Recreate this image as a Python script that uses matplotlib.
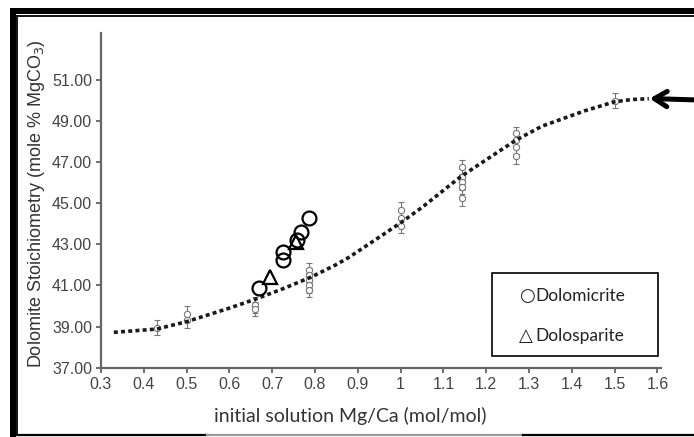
import matplotlib
matplotlib.use("Agg")
import matplotlib.pyplot as plt
from matplotlib.patches import Rectangle

# ---- data ----
# small reference markers with error bars (experimental clusters)
exp_x = [0.43, 0.5, 0.5, 0.66, 0.66,
         0.785, 0.785, 0.785, 0.785, 0.785,
         1.0, 1.0, 1.0,
         1.143, 1.143, 1.143, 1.143, 1.143,
         1.27, 1.27, 1.27, 1.27,
         1.5]
exp_y = [38.95, 39.62, 39.3, 40.05, 39.85,
         41.75, 41.5, 41.25, 41.0, 40.8,
         44.65, 44.3, 43.9,
         46.78, 46.3, 46.05, 45.8, 45.25,
         48.4, 48.1, 47.75, 47.3,
         50.0]
exp_err = [0.38, 0.38, 0.38, 0.38, 0.35,
           0.35, 0.35, 0.35, 0.35, 0.35,
           0.4, 0.35, 0.35,
           0.35, 0.35, 0.35, 0.35, 0.4,
           0.3, 0.3, 0.35, 0.4,
           0.35]

# Dolomicrite (large circles)
dmc_x = [0.668, 0.726, 0.726, 0.757, 0.767, 0.786]
dmc_y = [40.86, 42.65, 42.24, 43.21, 43.62, 44.27]

# Dolosparite (triangles)
dsp_x = [0.695, 0.755]
dsp_y = [41.43, 43.13]

# fitted trend curve
fit_x = [0.33, 0.43, 0.5, 0.6, 0.66, 0.72, 0.79, 0.85, 0.88, 0.95, 1.0, 1.05,
         1.14, 1.2, 1.27, 1.33, 1.37, 1.43, 1.5, 1.54, 1.58]
fit_y = [38.72, 38.88, 39.24, 39.9, 40.33, 40.8, 41.4, 42.02, 42.38, 43.35, 44.05,
         44.8, 46.29, 47.12, 48.08, 48.75, 49.05, 49.5, 49.94, 50.05, 50.09]

xticks = [0.3, 0.4, 0.5, 0.6, 0.7, 0.8, 0.9, 1.0, 1.1, 1.2, 1.3, 1.4, 1.5, 1.6]
xticklabels = ["0.3", "0.4", "0.5", "0.6", "0.7", "0.8", "0.9", "1", "1.1",
               "1.2", "1.3", "1.4", "1.5", "1.6"]
yticks = [37, 39, 41, 43, 45, 47, 49, 51]
legend_symbols = ["\u25CB", "\u25B3"]
legend_labels = ["Dolomicrite", "Dolosparite"]

# ---- figure ----
W, H = 694, 437
fig = plt.figure(figsize=(W / 100, H / 100), dpi=100)
fig.patch.set_facecolor("white")


def fx(px):
    return px / W


def fy(py):
    return 1 - py / H


# outer frame (thick top/left bands, thin inner lines)
fig.add_artist(Rectangle((fx(10), fy(13.5)), 1 - fx(10), 5.5 / H,
                         transform=fig.transFigure, color="black", lw=0))
fig.add_artist(Rectangle((fx(10), fy(437)), 5.5 / W, (437 - 8) / H,
                         transform=fig.transFigure, color="black", lw=0))
fig.add_artist(plt.Line2D([fx(16.5), 1], [fy(16), fy(16)], transform=fig.transFigure,
                          color="black", lw=1.3))
fig.add_artist(plt.Line2D([fx(17), fx(17)], [fy(16), fy(435)], transform=fig.transFigure,
                          color="black", lw=1.3))
fig.add_artist(plt.Line2D([fx(16.5), fx(207)], [fy(434.5), fy(434.5)], transform=fig.transFigure,
                          color="black", lw=1.6))
fig.add_artist(plt.Line2D([fx(207), fx(523)], [fy(434.5), fy(434.5)], transform=fig.transFigure,
                          color="#999999", lw=1.6))
fig.add_artist(plt.Line2D([fx(523), 1], [fy(434.5), fy(434.5)], transform=fig.transFigure,
                          color="black", lw=1.6))

ax_left, ax_right, ax_top, ax_bot = 101, 661, 33, 367.7
ax = fig.add_axes([ax_left / W, 1 - ax_bot / H, (ax_right - ax_left) / W,
                   (ax_bot - ax_top) / H])
ax.set_xlim(0.3, 0.3 + (ax_right - ax_left) / 428.0)
ax.set_ylim(37, 37 + (ax_bot - ax_top) / 20.55)

for s in ["top", "right"]:
    ax.spines[s].set_visible(False)
for s in ["left", "bottom"]:
    ax.spines[s].set_color("#666666")
    ax.spines[s].set_linewidth(1.6)

tick_font = dict(family=["Liberation Sans", "DejaVu Sans"], size=11.5, color="#444444")
ax.set_xticks(xticks)
ax.set_xticklabels(xticklabels, **tick_font)
ax.set_yticks(yticks)
ax.set_yticklabels(["%.2f" % v for v in yticks], **tick_font)
ax.tick_params(axis="both", direction="out", length=3.5, width=1.2, color="#555555",
               pad=3)

# trend curve
ax.plot(fit_x, fit_y, color="#1a1a1a", lw=2.6, linestyle=(0, (1.1, 0.9)),
        solid_capstyle="butt", dash_capstyle="butt", zorder=3)

# experimental points
ax.errorbar(exp_x, exp_y, yerr=exp_err, fmt="o", ms=4.5, mfc="white",
            mec="#777777", mew=0.8, ecolor="#777777", elinewidth=0.8,
            capsize=2, capthick=0.8, zorder=2)

# Dolomicrite / Dolosparite
ax.plot(dmc_x, dmc_y, "o", ms=10, mfc="none", mec="black", mew=1.6, zorder=4)
ax.plot(dsp_x, dsp_y, "^", ms=10, mfc="none", mec="black", mew=1.6, zorder=4)

# arrow at right
ax.annotate("", xy=(1.582, 50.1), xytext=(1.69, 50.03), xycoords="data",
            textcoords="data", annotation_clip=False,
            arrowprops=dict(arrowstyle="->,head_length=0.9,head_width=0.55",
                            color="black", lw=3.6, shrinkA=0, shrinkB=0,
                            capstyle="round", joinstyle="round"))

# axis labels
fig.text(fx(37), fy(204), "Dolomite Stoichiometry (mole % MgCO$_3$)", rotation=90,
         ha="center", va="center", family=["Liberation Sans", "DejaVu Sans"],
         size=13, color="#333333")
fig.text(fx(350), fy(416), "initial solution Mg/Ca (mol/mol)", ha="center", va="center",
         family=["Lato", "DejaVu Sans"], size=14, color="#333333")

# legend box
fig.add_artist(Rectangle((fx(491.7), fy(355.7)), (658.3 - 491.7) / W, (355.7 - 273.3) / H,
                         transform=fig.transFigure, fill=False, ec="black", lw=1.2))
for sym, lab, py in zip(legend_symbols, legend_labels, [295.7, 335.7]):
    fig.text(fx(519), fy(py), sym, ha="left", va="center",
             family=["DejaVu Sans"], size=13, color="#222222")
    fig.text(fx(535), fy(py), lab, ha="left", va="center",
             family=["Lato", "DejaVu Sans"], size=12.5, color="#222222")

fig.savefig("out.png", dpi=100, facecolor="white")
